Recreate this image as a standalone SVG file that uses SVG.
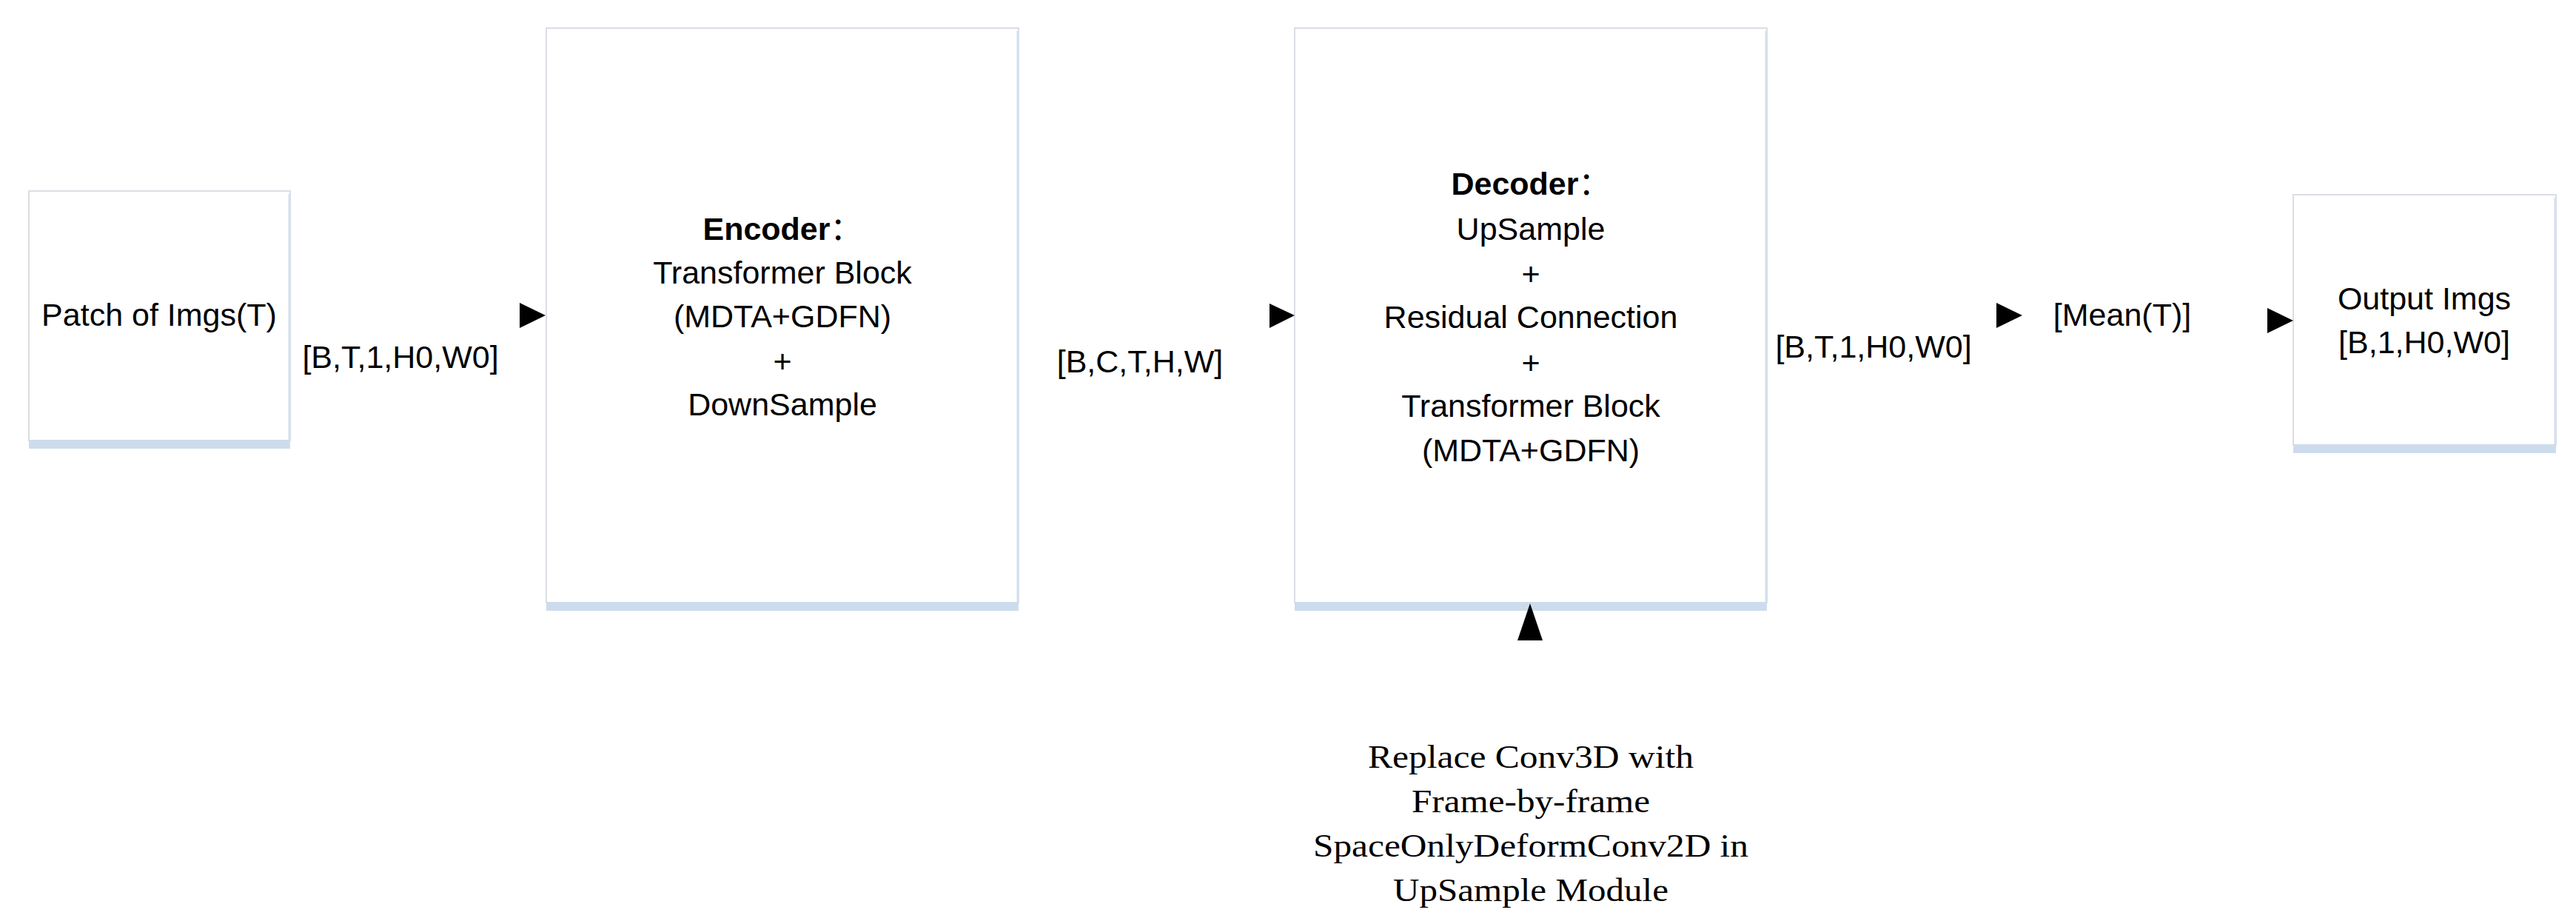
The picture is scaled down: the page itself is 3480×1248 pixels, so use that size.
<svg xmlns="http://www.w3.org/2000/svg" width="3480" height="1248" viewBox="0 0 3480 1248">
  <style>
    .box { fill: #ffffff; stroke: #dadee4; stroke-width: 2; }
    .band { fill: #cddcec; }
    .edge { stroke: #d3e0ee; stroke-width: 3; }
    .t { font-family: "Liberation Sans", "Noto Sans CJK SC", Arial, sans-serif; font-size: 43px; fill: #000; text-anchor: middle; }
    .b { font-weight: bold; }
    .s { font-family: "Liberation Serif", "Times New Roman", serif; font-size: 45px; fill: #000; text-anchor: middle; }
    .arr { fill: #000; }
  </style>
  <rect width="3480" height="1248" fill="#ffffff"/>

  <g id="node-patch">
    <rect class="box" x="39" y="258" width="353" height="337"/>
    <line class="edge" x1="391" y1="262" x2="391" y2="595"/>
    <rect class="band" x="39" y="594" width="353" height="12"/>
    <text class="t" x="215" y="440">Patch of Imgs(T)</text>
  </g>

  <g id="node-encoder">
    <rect class="box" x="738" y="38" width="638" height="776"/>
    <line class="edge" x1="1375" y1="42" x2="1375" y2="814"/>
    <rect class="band" x="738" y="813" width="638" height="12"/>
    <text class="t" x="1057" y="324"><tspan class="b">Encoder</tspan>：</text>
    <text class="t" x="1057" y="383">Transformer Block</text>
    <text class="t" x="1057" y="442">(MDTA+GDFN)</text>
    <text class="t" x="1057" y="503">+</text>
    <text class="t" x="1057" y="561">DownSample</text>
  </g>

  <g id="node-decoder">
    <rect class="box" x="1749" y="38" width="638" height="776"/>
    <line class="edge" x1="2386" y1="42" x2="2386" y2="814"/>
    <rect class="band" x="1749" y="813" width="638" height="12"/>
    <text class="t" x="2068" y="263"><tspan class="b">Decoder</tspan>：</text>
    <text class="t" x="2068" y="324">UpSample</text>
    <text class="t" x="2068" y="385">+</text>
    <text class="t" x="2068" y="443">Residual Connection</text>
    <text class="t" x="2068" y="505">+</text>
    <text class="t" x="2068" y="563">Transformer Block</text>
    <text class="t" x="2068" y="623">(MDTA+GDFN)</text>
  </g>

  <g id="node-output">
    <rect class="box" x="3098" y="263" width="355" height="338"/>
    <line class="edge" x1="3452" y1="267" x2="3452" y2="601"/>
    <rect class="band" x="3098" y="600" width="355" height="12"/>
    <text class="t" x="3275" y="418">Output Imgs</text>
    <text class="t" x="3275" y="477">[B,1,H0,W0]</text>
  </g>

  <g id="labels">
    <text class="t" x="541" y="497">[B,T,1,H0,W0]</text>
    <text class="t" x="1540" y="503">[B,C,T,H,W]</text>
    <text class="t" x="2531" y="483">[B,T,1,H0,W0]</text>
    <text class="t" x="2867" y="440">[Mean(T)]</text>
  </g>

  <g id="node-note">
    <text class="s" x="2068" y="1037" textLength="440" lengthAdjust="spacingAndGlyphs">Replace Conv3D with</text>
    <text class="s" x="2068" y="1097" textLength="322" lengthAdjust="spacingAndGlyphs">Frame-by-frame</text>
    <text class="s" x="2068" y="1157" textLength="588" lengthAdjust="spacingAndGlyphs">SpaceOnlyDeformConv2D in</text>
    <text class="s" x="2068" y="1217" textLength="372" lengthAdjust="spacingAndGlyphs">UpSample Module</text>
  </g>

  <g id="connectors">
    <polygon class="arr" points="702,409 737,426 702,443"/>
    <polygon class="arr" points="1715,410 1749,426 1715,443"/>
    <polygon class="arr" points="2697,409 2732,426 2697,443"/>
    <polygon class="arr" points="3063,416 3098,433 3063,450"/>
    <polygon class="arr" points="2050,865 2067,815 2084,865"/>
  </g>
</svg>
